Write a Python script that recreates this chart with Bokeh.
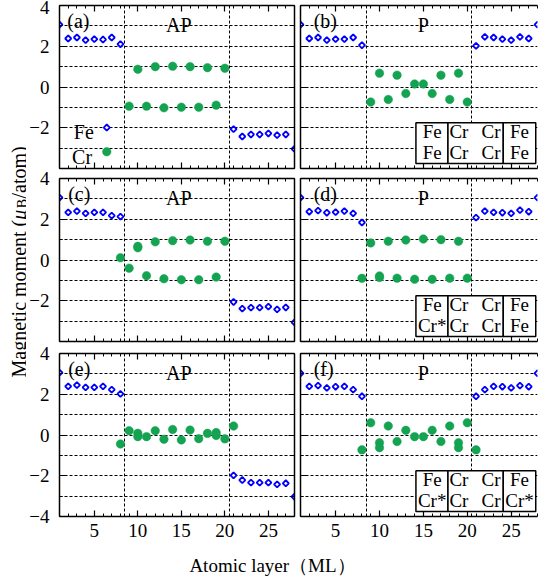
import math
from bokeh.plotting import figure
from bokeh.models import (Range1d, LinearAxis, SingleIntervalTicker, FixedTicker,
                          Label, BoxAnnotation, CustomJSTickFormatter)
from bokeh.layouts import row, column
from bokeh.embed import file_html
from bokeh.resources import INLINE

FONT = "'Liberation Serif', 'Times New Roman', serif"
FE_BLUE = "#0000ff"
CR_GREEN = "#13a351"

# ---------------- data ----------------
fe_layers = [1, 2, 3, 4, 5, 6, 7, 8, 21, 22, 23, 24, 25, 26, 27, 28]

# (a) AP
fe_a = [3.06, 2.38, 2.43, 2.30, 2.35, 2.33, 2.43, 2.10,
        -2.07, -2.43, -2.33, -2.33, -2.28, -2.36, -2.33, -3.04]
cr_a_layers = [9, 10, 11, 12, 13, 14, 15, 16, 17, 18, 19, 20]
cr_a = [-0.94, 0.87, -0.94, 1.00, -1.02, 1.02, -0.99, 1.00, -0.99, 0.95, -0.89, 0.92]

# (b) P
fe_b = [3.06, 2.38, 2.43, 2.30, 2.35, 2.35, 2.43, 2.05,
        2.02, 2.46, 2.43, 2.35, 2.30, 2.46, 2.38, 3.06]
cr_b_layers = [9, 10, 11, 12, 13, 14, 15, 16, 17, 18, 19, 20]
cr_b = [-0.74, 0.68, -0.61, 0.58, -0.32, 0.15, 0.15, -0.32, 0.58, -0.61, 0.68, -0.74]

# (c) AP
fe_c = [3.06, 2.34, 2.40, 2.29, 2.34, 2.34, 2.18, 2.13,
        -2.06, -2.39, -2.34, -2.34, -2.29, -2.42, -2.33, -3.06]
cr_c_layers = [8, 9, 10, 10, 11, 12, 13, 14, 15, 16, 17, 18, 19, 20]
cr_c = [0.11, -0.40, 0.60, 0.67, -0.77, 0.89, -0.92, 0.95, -0.97, 0.98, -0.97, 0.92, -0.84, 0.92]

# (d) P
fe_d = [3.06, 2.37, 2.42, 2.32, 2.35, 2.40, 2.29, 1.84,
        2.08, 2.40, 2.34, 2.32, 2.29, 2.45, 2.37, 3.06]
cr_d_layers = [8, 9, 10, 10, 11, 12, 13, 14, 15, 16, 17, 18, 19, 20]
cr_d = [-0.90, 0.84, -0.78, -0.86, 0.92, -0.89, 0.98, -0.94, 1.03, -0.95, 1.00, -0.89, 0.92, -0.89]

# (e) AP
fe_e = [3.06, 2.39, 2.45, 2.34, 2.34, 2.39, 2.23, 2.02,
        -1.98, -2.21, -2.34, -2.34, -2.34, -2.42, -2.37, -3.03]
cr_e_layers = [8, 9, 10, 10, 11, 12, 13, 14, 15, 16, 17, 18, 19, 19, 20, 21]
cr_e = [-0.44, 0.21, 0.08, -0.08, -0.08, 0.21, -0.21, 0.27, -0.24, 0.24, -0.18, 0.08,
        0.12, -0.02, -0.19, 0.44]

# (f) P
fe_f = [3.03, 2.39, 2.42, 2.31, 2.37, 2.39, 2.23, 1.90,
        1.90, 2.23, 2.39, 2.37, 2.31, 2.42, 2.37, 3.03]
cr_f_layers = [8, 9, 10, 10, 11, 12, 13, 14, 15, 16, 17, 18, 19, 19, 20, 21]
cr_f = [-0.73, 0.60, -0.38, -0.62, 0.44, -0.32, 0.23, -0.08, -0.08, 0.23, -0.32, 0.44,
        -0.38, -0.62, 0.60, -0.73]

interfaces = [8.5, 20.5]
moment_grid = [-3, -2, -1, 0, 1, 2, 3]

table_b = [["Fe", "Cr", "Cr", "Fe"], ["Fe", "Cr", "Cr", "Fe"]]
table_d = [["Fe", "Cr", "Cr", "Fe"], ["Cr*", "Cr", "Cr", "Fe"]]
table_f = [["Fe", "Cr", "Cr", "Fe"], ["Cr*", "Cr", "Cr", "Cr*"]]

legend_names = ["Fe", "Cr"]

# ---------------- layout constants ----------------
YT_W = 26
COL_W = [271, 248]
COL_BL = [31, 3]
COL_BR = [3, 8]
ROW_H = [171, 173, 200]
ROW_BT = [5, 7, 9]
ROW_BB = [3, 3, 28]
XT_H = 38
TICK_FS = "19px"
TXT_FS = "20px"

TABLE_EDGES = [14.15, 17.8, 24.1, 27.8]
TABLE_TOP, TABLE_BOTTOM = -1.75, -3.75
TABLE_COL_X = [16.0, 19.05, 22.7, 25.95]
TABLE_ROW_Y = [-2.17, -3.2]


def axis_style(show, standoff):
    return dict(axis_line_color="black", axis_line_width=1.5,
                major_tick_in=6, major_tick_out=0, minor_tick_in=3, minor_tick_out=0,
                major_tick_line_color="black", minor_tick_line_color="black",
                major_tick_line_width=1.2, minor_tick_line_width=1,
                major_label_text_font=FONT,
                major_label_text_font_size=TICK_FS if show else "1px",
                major_label_text_color="black" if show else None,
                major_label_standoff=standoff if show else 0)


def make_panel(col, r, fe, crx, cr, tag, mode, tag_x, mode_x, table=None, legend=False):
    p = figure(width=COL_W[col], height=ROW_H[r], x_range=Range1d(1, 28), y_range=Range1d(-4, 4),
               output_backend="svg", toolbar_location=None, title=None,
               x_axis_location=None, y_axis_location=None,
               min_border_left=COL_BL[col], min_border_right=COL_BR[col],
               min_border_top=ROW_BT[r], min_border_bottom=ROW_BB[r])
    p.outline_line_color = None
    p.background_fill_color = "white"
    p.border_fill_color = "white"

    show_x = (r == 2)
    show_y = (col == 0)
    yfmt = CustomJSTickFormatter(args=dict(hide=(r != 2)), code="""
        if (hide && tick < -3.5) { return ""; }
        return tick < 0 ? "\\u2212" + Math.abs(tick) : String(tick);
    """)
    p.add_layout(LinearAxis(ticker=SingleIntervalTicker(interval=5, num_minor_ticks=5),
                            **axis_style(show_x, 7)), "below")
    p.add_layout(LinearAxis(ticker=SingleIntervalTicker(interval=5, num_minor_ticks=5),
                            **axis_style(False, 0)), "above")
    p.add_layout(LinearAxis(ticker=SingleIntervalTicker(interval=2, num_minor_ticks=2),
                            formatter=yfmt, **axis_style(show_y, 10)), "left")
    if col == 0:
        p.add_layout(LinearAxis(ticker=SingleIntervalTicker(interval=2, num_minor_ticks=2),
                                **axis_style(False, 0)), "right")

    p.xgrid.ticker = FixedTicker(ticks=interfaces)
    p.ygrid.ticker = FixedTicker(ticks=moment_grid)
    for g in (p.xgrid, p.ygrid):
        g.grid_line_color = "black"
        g.grid_line_dash = "3 2"
        g.grid_line_width = 1
        g.grid_line_alpha = 1

    p.scatter(fe_layers, fe, marker="square", angle=math.pi / 4, size=4.3,
              line_color=FE_BLUE, line_width=1.8, fill_color="white")
    p.scatter(crx, cr, marker="circle", size=8.5, fill_color=CR_GREEN,
              line_color=CR_GREEN, line_width=0.5)

    p.add_layout(Label(x=tag_x, y=3.25, text=tag, text_font=FONT, text_font_size=TXT_FS,
                       text_align="left", text_baseline="alphabetic", text_color="black"))
    p.add_layout(Label(x=mode_x, y=3.05, text=mode, text_font=FONT, text_font_size=TXT_FS,
                       text_align="center", text_baseline="alphabetic", text_color="black"))

    if legend:
        p.scatter([6.43], [-1.99], marker="square", angle=math.pi / 4, size=4.3,
                  line_color=FE_BLUE, line_width=1.8, fill_color="white")
        p.scatter([6.43], [-3.18], marker="circle", size=8.5, fill_color=CR_GREEN,
                  line_color=CR_GREEN, line_width=0.5)
        p.add_layout(Label(x=2.65, y=-2.23, text=legend_names[0], text_font=FONT,
                           text_font_size=TXT_FS, text_baseline="alphabetic",
                           text_color="black"))
        p.add_layout(Label(x=2.45, y=-3.46, text=legend_names[1], text_font=FONT,
                           text_font_size=TXT_FS, text_baseline="alphabetic",
                           text_color="black"))

    if table is not None:
        for i in range(3):
            p.add_layout(BoxAnnotation(left=TABLE_EDGES[i], right=TABLE_EDGES[i + 1],
                                       top=TABLE_TOP, bottom=TABLE_BOTTOM,
                                       fill_color="white", fill_alpha=1,
                                       line_color="black", line_width=1.5, line_alpha=1))
        for ri, rowtxt in enumerate(table):
            for ci, t in enumerate(rowtxt):
                p.add_layout(Label(x=TABLE_COL_X[ci], y=TABLE_ROW_Y[ri], text=t, text_font=FONT,
                                   text_font_size="19px", text_align="center",
                                   text_baseline="middle", text_color="black"))
    return p


pa = make_panel(0, 0, fe_a, cr_a_layers, cr_a, "(a)", "AP", 1.9, 14.7, legend=True)
pb = make_panel(1, 0, fe_b, cr_b_layers, cr_b, "(b)", "P", 2.5, 15.0, table=table_b)
pc = make_panel(0, 1, fe_c, cr_c_layers, cr_c, "(c)", "AP", 2.0, 14.7)
pd = make_panel(1, 1, fe_d, cr_d_layers, cr_d, "(d)", "P", 2.5, 15.0, table=table_d)
pe = make_panel(0, 2, fe_e, cr_e_layers, cr_e, "(e)", "AP", 2.0, 14.7)
pf = make_panel(1, 2, fe_f, cr_f_layers, cr_f, "(f)", "P", 2.5, 15.0, table=table_f)


def blank(w, h):
    f = figure(width=w, height=h, x_range=Range1d(0, 1), y_range=Range1d(0, 1),
               output_backend="svg", toolbar_location=None, title=None,
               x_axis_location=None, y_axis_location=None, min_border=0)
    f.outline_line_color = None
    f.xgrid.visible = False
    f.ygrid.visible = False
    return f


TOTAL_H = sum(ROW_H) + XT_H
yfig = blank(YT_W, TOTAL_H)
y0 = TOTAL_H + 8 - 385.0
pieces = [("Magnetic moment (", "20px", "normal", 18.0, 0.0),
          ("\u03bc", "20px", "italic", 18.0, 157.8),
          ("B", "14px", "normal", 21.5, 169.3),
          ("/atom)", "20px", "normal", 18.0, 179.0)]
for txt, fs, style, bx, off in pieces:
    yfig.add_layout(Label(x=bx, y=y0 + off, x_units="screen", y_units="screen", text=txt,
                          angle=math.pi / 2, text_font=FONT, text_font_size=fs,
                          text_font_style=style, text_align="left",
                          text_baseline="alphabetic", text_color="black"))

xfig = blank(COL_W[0] + COL_W[1], XT_H)
xfig.add_layout(Label(x=280 - 8 - YT_W, y=17, x_units="screen", y_units="screen",
                      text="Atomic layer\uff08ML\uff09", text_font=FONT, text_font_size="19px",
                      text_align="center", text_baseline="middle", text_color="black"))

layout = row(yfig, column(row(pa, pb), row(pc, pd), row(pe, pf), xfig))
open("out.html", "w").write(file_html(layout, INLINE))
